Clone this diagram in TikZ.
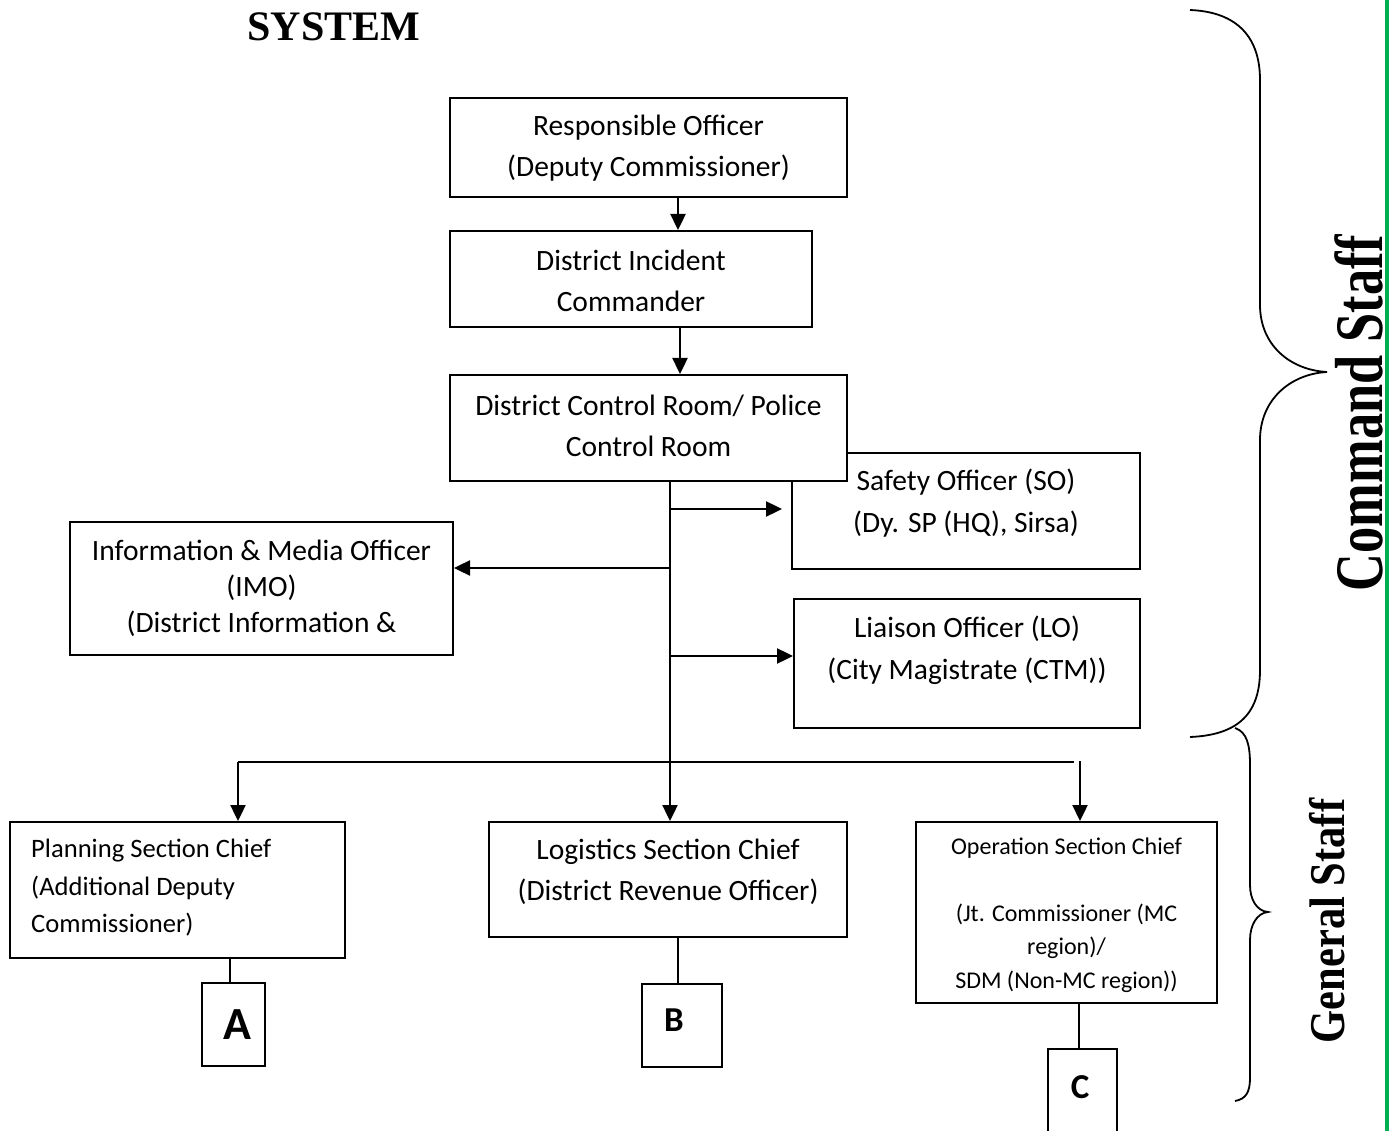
\documentclass[tikz,border=0pt]{standalone}
\usepackage{fontspec}
\usepackage{graphicx}
\setmainfont{Liberation Serif}
\newfontfamily\bodyfont{Carlito}
\usetikzlibrary{arrows.meta}
\definecolor{edgegreen}{RGB}{0,176,80}

\tikzset{
  box/.style={draw, line width=2pt, fill=white, inner sep=0pt},
  txt/.style={inner sep=0pt, align=center, font=\bodyfont\fontsize{29.5}{41.5}\selectfont},
  arr/.style={line width=2.4pt, -{Triangle[length=16pt,width=15pt]}},
  link/.style={line width=2.2pt},
  brace/.style={line width=1.8pt},
  letter/.style={inner sep=0pt, font=\bodyfont\bfseries},
  side/.style={inner sep=0pt, rotate=90, font=\bfseries}
}

\begin{document}
\begin{tikzpicture}[x=1pt,y=-1pt]
\useasboundingbox (0,0) rectangle (1395,1131);

% title
\node[inner sep=0pt, font=\bfseries\fontsize{42}{48}\selectfont] (title) at (334,27) {SYSTEM};

% command chain
\node[box, minimum width=397pt, minimum height=99pt] (resp) at (648.5,147.5) {};
\node[txt] (respt) at (648.5,148) {Responsible Officer\\(Deputy Commissioner)};

\node[box, minimum width=362pt, minimum height=96pt] (dic) at (631,279) {};
\node[txt] (dict) at (631,281) {District Incident\\Commander};

\node[box, minimum width=348pt, minimum height=116pt] (safety) at (966,511) {};
\node[txt] (safetyt) at (966,503) {Safety Officer (SO)\\(Dy. SP (HQ), Sirsa)};

\node[box, minimum width=397pt, minimum height=106pt] (dcr) at (648.5,428) {};
\node[txt] (dcrt) at (648.5,426) {District Control Room/ Police\\Control Room};

\node[box, minimum width=383pt, minimum height=133pt] (imo) at (261.5,588.5) {};
\node[txt, font=\bodyfont\fontsize{29.5}{36}\selectfont] (imot) at (261.5,588) {Information \& Media Officer\\(IMO)\\(District Information \&};

\node[box, minimum width=346pt, minimum height=129pt] (lo) at (967,663.5) {};
\node[txt] (lot) at (967,650) {Liaison Officer (LO)\\(City Magistrate (CTM))};

% sections
\node[box, minimum width=335pt, minimum height=136pt] (plan) at (177.5,890) {};
\node[txt, align=left, anchor=west, font=\bodyfont\fontsize{26.6}{37.5}\selectfont] (plant) at (31,888) {Planning Section Chief\\(Additional Deputy\\Commissioner)};

\node[box, minimum width=358pt, minimum height=115pt] (logis) at (668,879.5) {};
\node[txt] (logist) at (668,872) {Logistics Section Chief\\(District Revenue Officer)};

\node[box, minimum width=301pt, minimum height=181pt] (oper) at (1066.5,912.5) {};
\node[txt, font=\bodyfont\fontsize{24}{33.5}\selectfont] (opert) at (1066.5,915) {Operation Section Chief\\[33.5pt](Jt. Commissioner (MC\\region)/\\SDM (Non-MC region))};

% sub-unit boxes
\node[box, minimum width=63pt, minimum height=83pt] (ua) at (233.5,1024.5) {};
\node[letter, font=\bodyfont\bfseries\fontsize{46}{46}\selectfont] (uat) at (237,1025) {A};
\node[box, minimum width=80pt, minimum height=83pt] (ub) at (682,1025) {};
\node[letter, font=\bodyfont\bfseries\fontsize{35}{35}\selectfont] (ubt) at (674,1020) {B};
\node[box, minimum width=69pt, minimum height=90pt] (uc) at (1082.5,1094) {};
\node[letter, font=\bodyfont\bfseries\fontsize{35}{35}\selectfont] (uct) at (1080,1087) {C};

% reference points for the connectors
\coordinate (x1) at (678,0);
\coordinate (x2) at (680,0);
\coordinate (trunk) at (670,0);
\coordinate (ySO) at (0,509);
\coordinate (yIMO) at (0,568);
\coordinate (yLO) at (0,656);
\coordinate (busL) at (238,762);
\coordinate (busR) at (1074,762);
\coordinate (opTop) at (1080,761);
\coordinate (xa) at (230,0);
\coordinate (xb) at (678,0);
\coordinate (xc) at (1079,0);

% connectors
\draw[arr] (resp.south -| x1) -- (dic.north -| x1);
\draw[arr] (dic.south -| x2) -- (dcr.north -| x2);
\draw[arr] (dcr.south -| trunk) -- (logis.north -| trunk);
\draw[arr] (trunk |- ySO) -- ([xshift=-9pt]safety.west |- ySO);
\draw[arr] (trunk |- yIMO) -- (imo.east |- yIMO);
\draw[arr] (trunk |- yLO) -- (lo.west |- yLO);
\draw[link] (busL) -- (busR);
\draw[arr] (busL) -- (plan.north -| busL);
\draw[arr] (opTop) -- (oper.north -| opTop);
\draw[link] (plan.south -| xa) -- (ua.north -| xa);
\draw[link] (logis.south -| xb) -- (ub.north -| xb);
\draw[link] (oper.south -| xc) -- (uc.north -| xc);

% braces
\draw[brace] (1190,10) .. controls (1240,12) and (1260,40) .. (1260,80)
  -- (1260,305) .. controls (1260,345) and (1290,370) .. (1327,372)
  .. controls (1290,374) and (1260,400) .. (1260,440)
  -- (1260,670) .. controls (1260,712) and (1240,735) .. (1190,737);
\draw[brace] (1235,728) .. controls (1247,732) and (1250,745) .. (1250,765)
  -- (1250,885) .. controls (1250,900) and (1257,911) .. (1268,912)
  .. controls (1257,913) and (1250,925) .. (1250,940)
  -- (1250,1078) .. controls (1250,1092) and (1246,1099) .. (1235,1101);

% side labels
\node[side, font=\bfseries\fontsize{68}{68}\selectfont] (cmd) at (1359,413) {\scalebox{0.77}[1]{Command Staff}};
\node[side, font=\bfseries\fontsize{50}{50}\selectfont] (gen) at (1327,921) {\scalebox{0.85}[1]{General Staff}};

% page edge rule
\draw[edgegreen, line width=4pt] (1387,0) -- (1387,1131);
\end{tikzpicture}
\end{document}
